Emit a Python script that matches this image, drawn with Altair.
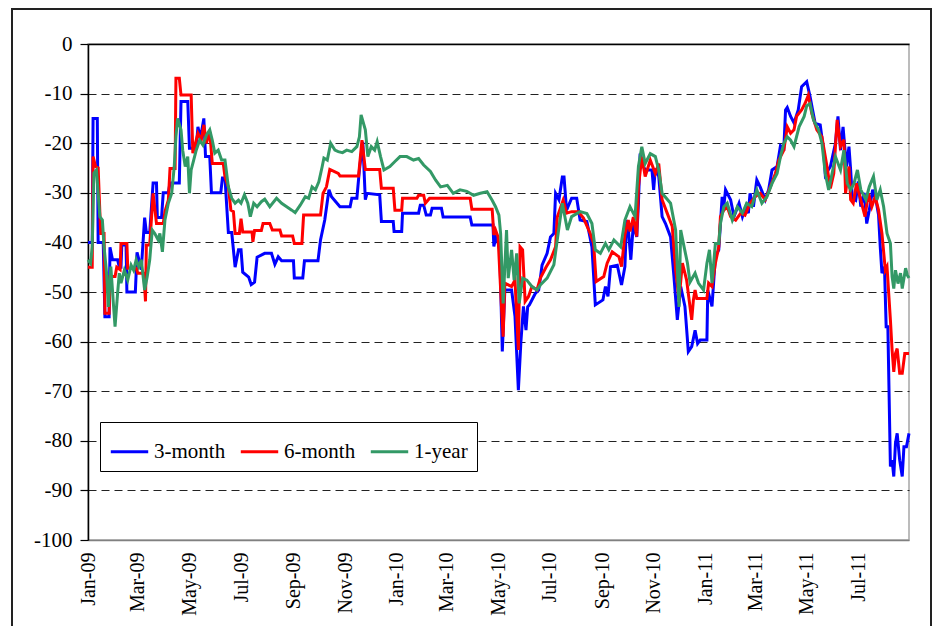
import altair as alt
import pandas as pd

# ---- data (day offset from 2009-01-01, value) ----
series_names = ["3-month", "6-month", "1-year"]
series_colors = ["#0000ff", "#ff0000", "#339966"]

m3_days = [0,5,6,11,12,18,20,25,26,29,35,37,39,40,45,46,56,58,61,63,67,69,73,77,81,82,87,89,95,97,108,110,118,120,128,130,133,137,139,144,146,157,159,162,166,170,174,178,181,183,190,193,197,200,209,217,221,225,229,243,244,254,256,272,275,280,285,288,298,310,312,318,321,325,328,330,345,347,361,362,371,372,391,393,397,400,405,407,418,420,452,454,479,480,483,487,490,493,501,505,509,512,515,518,520,522,529,533,535,537,543,547,551,553,557,561,563,566,572,578,582,590,596,600,609,612,615,618,626,631,635,637,639,642,645,649,651,653,655,659,667,669,671,675,679,683,689,693,697,701,706,710,714,718,721,724,732,733,738,742,746,750,752,754,760,764,770,774,778,781,783,787,791,795,801,805,809,815,819,823,825,827,831,835,840,844,850,854,857,860,866,870,872,878,884,887,890,893,897,900,902,904,908,911,914,918,921,924,928,932,935,937,939,942,944,946,949,951,953,955,957,960,963,965,968,971]
m3_vals = [-40,-40,-15,-15,-40,-40,-55,-55,-41,-43.5,-43.5,-45,-45,-40.5,-40.5,-50,-50,-42,-44,-45.5,-35,-38,-38,-28,-28,-35,-35,-30,-30,-28,-28,-11.6,-11.6,-21,-21,-16.7,-19,-15,-22.7,-22.7,-30,-30,-27,-27,-38,-38,-45,-41.5,-41.5,-46,-47,-48.5,-48,-43,-42.2,-42.2,-44.4,-42.9,-43.7,-43.7,-47.2,-47.2,-43.7,-43.7,-39.5,-35.5,-29.4,-30.8,-32.8,-32.8,-31.1,-31.1,-25.4,-19.7,-31.4,-30.1,-30.4,-35.8,-35.8,-37.8,-37.8,-34.1,-34.1,-32.5,-32.5,-34.5,-34.5,-33.1,-33.1,-34.9,-34.9,-36.5,-36.5,-40.8,-38.5,-41.6,-62,-49.6,-49.6,-54.9,-69.8,-60,-52.9,-57.7,-53,-52.6,-50.3,-49.6,-47.2,-44.6,-42.2,-38.9,-38.2,-30.1,-31.4,-26.8,-26.8,-33.5,-31.1,-31.1,-35.5,-35.8,-40.9,-52.6,-51.6,-48.9,-50.9,-44.9,-44.6,-48.6,-44.9,-35.5,-37.2,-43.5,-36.2,-38.9,-32.1,-22.1,-24.1,-25.4,-25.4,-29.4,-25.1,-26.7,-34.8,-36.2,-38.9,-46.9,-55.6,-48.9,-52.9,-62,-61,-57.7,-60.4,-59.7,-59.7,-49.6,-52.9,-42.9,-41.5,-30.8,-32.8,-29.4,-31.4,-34.8,-32.1,-34.8,-32.8,-34.1,-30.1,-32.8,-27.4,-28.8,-31.4,-29.4,-25.4,-24.7,-20.5,-21,-13.3,-12.8,-14.6,-15.9,-13.3,-8.6,-7.6,-10.6,-13.3,-16,-16.3,-21.4,-26.4,-24.7,-20,-14.6,-21.4,-16.7,-24.7,-20.7,-25.4,-31.1,-31.5,-27.7,-32.8,-30,-36.2,-33.5,-29.4,-31.5,-34.5,-40.9,-46.2,-44.9,-57,-57,-85.2,-83.9,-87.2,-80.5,-78.5,-83.9,-87.2,-81.2,-81.2,-78.5]

m6_days = [0,5,6,9,12,15,19,20,25,26,32,34,38,39,46,47,57,59,66,68,69,73,77,81,89,91,95,97,103,104,108,110,122,124,128,130,134,137,140,144,147,160,162,166,169,172,174,179,181,183,194,195,197,205,207,215,218,227,229,242,244,253,255,275,278,282,286,296,298,320,324,328,345,347,361,363,371,372,389,391,397,399,404,452,454,478,480,482,485,489,491,493,501,505,509,511,514,517,521,525,531,535,542,547,553,555,562,566,572,580,586,594,598,601,610,614,620,628,631,635,639,641,645,649,651,655,659,665,671,675,679,685,691,695,699,703,708,712,714,716,718,720,732,734,738,742,746,748,752,756,760,766,772,777,783,789,795,801,807,813,817,823,827,831,835,838,844,848,852,856,862,868,874,878,882,886,890,894,896,900,902,905,909,913,919,923,927,931,935,939,943,945,949,951,953,955,957,960,963,966,971]
m6_vals = [-45,-45,-22.7,-24.7,-25,-38.2,-38.2,-54.3,-54.3,-46.9,-46.9,-45,-45.5,-40.2,-40.2,-45.2,-45.2,-46.2,-46.2,-51.9,-40.5,-40.5,-30.1,-36.2,-36.2,-33.8,-31.5,-25.1,-25.1,-6.9,-6.9,-10.3,-10.3,-22,-19.4,-18,-19.4,-16.3,-20,-17.7,-24.1,-24.1,-26.8,-28.8,-33.5,-33.8,-38.2,-38.2,-35.2,-37.9,-37.9,-39.9,-37.6,-37.6,-36.2,-36.2,-37.5,-37.5,-38.7,-38.7,-40.2,-40.2,-34.5,-34.5,-30.1,-28.8,-25.3,-26.1,-26.6,-26.6,-19.4,-25.3,-25.3,-29.1,-29.1,-33.5,-33.5,-31.1,-31.1,-30.5,-30.5,-32.1,-31.1,-31.1,-33.3,-33.3,-38.5,-37.5,-38.9,-52.9,-59,-48.2,-48.9,-47.6,-61.7,-40.9,-41.5,-51.9,-50.9,-48.9,-49.6,-47.2,-44.9,-43.5,-40.9,-34.9,-31.5,-34.1,-33.8,-33.8,-35.1,-38.2,-40.2,-47.9,-46.9,-44.2,-41.9,-42.9,-44.9,-38.5,-35.5,-37.8,-34.9,-38.8,-28.8,-22.7,-26.7,-23.4,-26.1,-24.1,-31.4,-34.1,-36.8,-45.6,-51.6,-44.2,-47.6,-53,-55.6,-51.6,-49.6,-51.3,-51.3,-48.2,-48.9,-44.2,-40.9,-34.8,-33.5,-32.8,-34.8,-35.5,-34.1,-34.5,-32.1,-30.8,-30.1,-31.4,-28.8,-26.1,-23.4,-21.4,-16.7,-18,-17.3,-14.6,-13.3,-12,-10.3,-14,-17.3,-18.7,-24.7,-29.1,-26.1,-15.3,-20.7,-19.3,-30.1,-24.7,-31.4,-32.1,-28.1,-30.8,-34.8,-30.1,-32.8,-30.8,-33.5,-38.2,-45.6,-44.9,-55.6,-61.7,-66.1,-62.4,-61.4,-66.4,-66.4,-62.4,-62.4]

y1_days = [0,3,5,7,10,12,14,17,19,22,24,27,30,32,35,37,39,43,47,51,54,57,60,63,67,70,73,76,79,83,85,88,91,95,99,102,104,106,110,112,115,118,120,122,125,128,132,136,140,144,147,150,154,158,162,166,170,174,178,181,185,189,192,196,200,205,209,215,223,229,235,241,245,251,257,261,265,269,273,277,279,283,287,292,296,301,306,312,318,321,323,328,331,335,339,342,346,350,357,363,369,377,385,391,397,405,411,417,425,432,440,448,456,464,472,478,482,486,488,491,495,497,501,504,507,510,514,519,525,531,535,543,551,555,561,567,572,582,590,596,600,606,612,616,622,630,635,641,647,651,655,659,665,671,675,679,689,695,699,701,705,709,712,718,722,728,732,735,738,742,746,748,752,756,762,768,774,779,785,791,797,803,809,815,819,823,827,831,835,841,847,850,854,858,864,868,872,876,880,884,890,894,898,902,906,910,914,920,924,929,933,937,941,945,949,951,953,955,958,961,963,967,969,971]
y1_vals = [-43.5,-44.2,-40.9,-26,-25.4,-30.1,-34.8,-35.5,-40.9,-46.2,-53,-44.9,-52.3,-57,-50.3,-46.2,-48.2,-45.6,-47.6,-44.6,-45.6,-43.5,-44.9,-43.5,-49.6,-46.9,-43.5,-37.5,-38.2,-39.5,-38.2,-41.9,-35.5,-32.1,-30.1,-24.7,-18.7,-15,-17.3,-21.4,-24.7,-22.7,-30.1,-25.4,-23.4,-21.4,-19.4,-20.4,-18.4,-17.3,-19.4,-22,-21.4,-23.4,-23.4,-28.8,-31.1,-32.1,-31.5,-32.1,-30.4,-32.1,-34.8,-32.1,-32.8,-31.8,-31.3,-32.8,-31.1,-32.1,-32.8,-33.5,-34,-32.5,-30.8,-31.1,-28.8,-29.4,-27.8,-24.7,-23,-23.4,-20,-21.4,-21.7,-21.9,-21.4,-21.7,-20.7,-18.7,-14.3,-17.3,-22.7,-20.7,-21.4,-19.7,-22.7,-25.4,-24.7,-23.7,-22.7,-22.7,-23.4,-23.1,-24.4,-25.7,-27.4,-28.8,-28.5,-30.1,-29.4,-29.7,-30.5,-30.1,-29.8,-31.5,-32.8,-34.5,-38.2,-52.3,-37.5,-47.2,-41.5,-47.6,-42.2,-52.3,-47.2,-47.6,-48.9,-49.6,-48.6,-47.2,-44.5,-39.5,-32.1,-37.5,-34.8,-33.8,-34.2,-36.2,-41.5,-42.2,-40.2,-41.5,-39.5,-40.9,-35.5,-32.8,-34.8,-24.7,-20.7,-24.1,-22.1,-22.7,-25.4,-30.1,-32.1,-37.5,-53,-37.5,-40.9,-44.2,-48,-46.2,-48.2,-49.6,-44.2,-41.5,-48.2,-40.2,-40.2,-36.2,-32.8,-32.1,-35.5,-32.8,-34.1,-32.1,-32.8,-29.4,-32.1,-30.8,-28.1,-26.1,-22.7,-20,-18.7,-19.4,-20.7,-16.7,-14.6,-12.5,-12,-15.3,-17.3,-20,-26.1,-29.4,-26.1,-22.7,-25.4,-21.4,-28.1,-29.4,-28.1,-25.4,-29.4,-31.4,-28.8,-26.7,-31.4,-29.4,-32.8,-38.2,-40.2,-46.9,-49.3,-45.6,-48.3,-46.2,-49.3,-45.2,-46.6,-47.2]

tick_years = [2009]*6 + [2010]*6 + [2011]*4
tick_months = [1,3,5,7,9,11, 1,3,5,7,9,11, 1,3,5,7]
y_ticks = list(range(-100, 1, 10))

# ---- build long table ----
start = pd.Timestamp("2009-01-01")
frames = []
for name, d, v in zip(series_names, [m3_days, m6_days, y1_days], [m3_vals, m6_vals, y1_vals]):
    frames.append(pd.DataFrame({
        "date": start + pd.to_timedelta(d, unit="D"),
        "value": v,
        "series": name,
    }))
df = pd.concat(frames, ignore_index=True)

FONT = "'Liberation Serif', 'Times New Roman', Times, serif"

x_axis = alt.Axis(
    values=[alt.DateTime(year=y, month=m, date=1) for y, m in zip(tick_years, tick_months)],
    format="%b-%y", labelAngle=270, labelAlign="right", labelBaseline="middle",
    labelFontSize=20, labelFont=FONT, labelColor="black", labelPadding=12,
    ticks=False, grid=False, domainColor="#808080", domainWidth=1.5,
    labelFlush=False, labelOverlap=False, title=None,
)
y_axis = alt.Axis(
    values=y_ticks, labelExpr="toString(datum.value)",
    labelFontSize=21, labelFont=FONT, labelColor="black", labelPadding=8,
    tickSize=8, tickColor="black", tickWidth=1.2,
    domainColor="black", domainWidth=1.5,
    grid=True,
    gridDash={"condition": {"test": "datum.value === 0", "value": []}, "value": [8, 5]},
    gridColor={"condition": {"test": "datum.value === 0", "value": "black"}, "value": "#222222"},
    gridWidth={"condition": {"test": "datum.value === 0", "value": 1.5}, "value": 1},
    gridOpacity={"condition": {"test": "datum.value === -100", "value": 0}, "value": 1},
    labelFlush=False, title=None,
)

lines = alt.Chart(df).mark_line(strokeWidth=3, interpolate="linear").encode(
    x=alt.X("date:T", axis=x_axis,
            scale=alt.Scale(domain=[alt.DateTime(year=2009, month=1, date=1),
                                    alt.DateTime(year=2011, month=8, date=30)])),
    y=alt.Y("value:Q", axis=y_axis, scale=alt.Scale(domain=[-100, 0], nice=False)),
    color=alt.Color("series:N",
                    scale=alt.Scale(domain=series_names, range=series_colors),
                    sort=series_names,
                    legend=alt.Legend(
                        orient="none", legendX=12, legendY=378, direction="horizontal",
                        title=None, strokeColor="black", fillColor="white",
                        padding=9, symbolType="stroke", symbolStrokeWidth=3,
                        symbolSize=1400, labelFont=FONT, labelFontSize=21,
                        labelColor="black", labelOffset=4, columnPadding=8,
                    )),
    order=alt.Order("date:T"),
)

frame = alt.Chart(pd.DataFrame({"k": [0]})).mark_rect(
    filled=False, stroke="#222222", strokeWidth=2
).encode(
    x=alt.value(-76), x2=alt.value(843), y=alt.value(-35), y2=alt.value(620)
)

chart = alt.layer(lines, frame).properties(
    width=821, height=496,
    autosize=alt.AutoSizeParams(type="none"),
    padding={"left": 80, "top": 36, "right": 24, "bottom": 86},
).configure(font=FONT).configure_view(stroke="#a6a6a6", strokeWidth=1.5)

chart.save("out.html", embed_options={"renderer": "svg", "actions": False})
